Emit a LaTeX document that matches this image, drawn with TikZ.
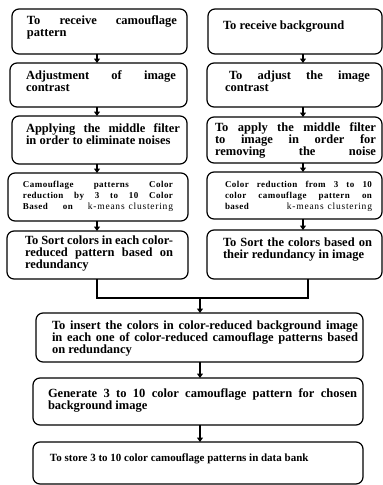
\documentclass[tikz,border=0pt]{standalone}
\usepackage{fontspec}
\setmainfont{Liberation Serif}
\newfontfamily\smallserif{Liberation Serif}[LetterSpace=5]
\newfontfamily\kmserif{Liberation Serif}[LetterSpace=8]
\usetikzlibrary{arrows.meta}
% justified line / natural line (full width box)
\newcommand{\J}[1]{\hbox to\linewidth{\spaceskip=.25em plus 1fil minus .12em\relax #1}}
\newcommand{\N}[1]{\hbox to\linewidth{#1\hfil}}
% box content: left pad, text width, right pad, height, first baseline, lines
\newcommand{\bx}[6]{\hspace*{#1pt}\parbox[c][#4pt][t]{#2pt}{\prevdepth=0pt\vskip\dimexpr#5pt-\baselineskip\relax #6}\hspace*{#3pt}}
\newcommand{\km}{{\kmserif\fontsize{9.5}{11.3}\selectfont\mdseries k-means\kern4pt clustering}}
\tikzset{
  box/.style={draw, line width=1.2pt, rounded corners=7pt, inner sep=0pt, outer sep=0pt,
              font=\fontsize{12.5}{12}\selectfont\bfseries},
  sbox/.style={box, font=\smallserif\fontsize{9}{11.3}\selectfont\bfseries},
  tbox/.style={box, font=\fontsize{11}{12}\selectfont\bfseries},
  ln/.style={line width=1.2pt, line join=miter},
  arr/.style={ln, -{Triangle[length=4.5pt,width=6pt]}}
}
\begin{document}
\begin{tikzpicture}[x=1pt,y=-1pt]
\useasboundingbox (0,0) rectangle (383,485);
% left column
\node[box] (L1) at (99.5,31.5) {\bx{15}{150}{10}{45}{15}{\J{To receive camouflage}\N{pattern}}};
\node[box] (L2) at (98.5,85) {\bx{16}{150}{11}{44}{16}{\J{Adjustment of image}\N{contrast}}};
\node[box] (L3) at (99.5,140) {\bx{14}{154}{7}{48}{16}{\J{Applying the middle filter}\N{in order to eliminate noises}}};
\node[sbox] (L4) at (98,197) {\bx{15}{150}{15}{48}{14}{\J{Camouflage patterns Color}\J{reduction by 3 to 10 Color}\J{Based on \km}}};
\node[box] (L5) at (97.5,255) {\bx{18}{148}{15}{48}{13}{\J{To Sort colors in each color-}\J{reduced pattern based on}\N{redundancy}}};
% right column
\node[box] (R1) at (295,31.5) {\bx{15}{150}{9}{45}{20}{\N{To receive background}}};
\node[box] (R2) at (294.5,85) {\bx{18}{145}{12}{44}{16}{\J{\kern4pt To adjust the image}\N{contrast}}};
\node[box] (R3) at (294.5,140) {\bx{8}{161}{6}{46}{14}{\J{To apply the middle filter}\J{to image in order for}\J{removing the noise}}};
\node[sbox] (R4) at (294.5,195.5) {\bx{18}{147}{10}{47}{15}{\J{Color reduction from 3 to 10}\J{color camouflage pattern on}\J{based \km}}};
\node[box] (R5) at (294.5,254.5) {\bx{16}{149}{10}{49}{16}{\J{To Sort the colors based on}\N{their redundancy in image}}};
% bottom
\node[box] (B6) at (199.5,337.5) {\bx{16}{306}{5}{49}{16}{\J{To insert the colors in color-reduced background image}\J{in each one of color-reduced camouflage patterns based}\N{on redundancy}}};
\node[box] (B7) at (198,401.5) {\bx{15}{309}{6}{47}{19}{\J{Generate 3 to 10 color camouflage pattern for chosen}\N{background image}}};
\node[tbox] (B8) at (198,463) {\bx{17}{300}{13}{42}{19}{\N{To store 3 to 10 color camouflage patterns in data bank}}};
% connector positions
\coordinate (xL) at (97,0);
\coordinate (xR) at (303,0);
\coordinate (xRm) at (308,0);
\coordinate (mj) at (200,298);
\draw[arr] (L1.south -| xL) -- (L2.north -| xL);
\draw[arr] (L2.south -| xL) -- (L3.north -| xL);
\draw[arr] (L3.south -| xL) -- (L4.north -| xL);
\draw[arr] (L4.south -| xL) -- (L5.north -| xL);
\draw[arr] (R1.south -| xR) -- (R2.north -| xR);
\draw[arr] (R2.south -| xR) -- (R3.north -| xR);
\draw[arr] (R3.south -| xR) -- (R4.north -| xR);
\draw[arr] (R4.south -| xR) -- (R5.north -| xR);
\draw[ln] (L5.south -| xL) |- (mj);
\draw[ln] (R5.south -| xRm) |- (mj);
\draw[arr] (mj) -- (B6.north -| mj);
\draw[arr] (B6.south -| mj) -- (B7.north -| mj);
\draw[arr] (B7.south -| mj) -- (B8.north -| mj);
\end{tikzpicture}
\end{document}
